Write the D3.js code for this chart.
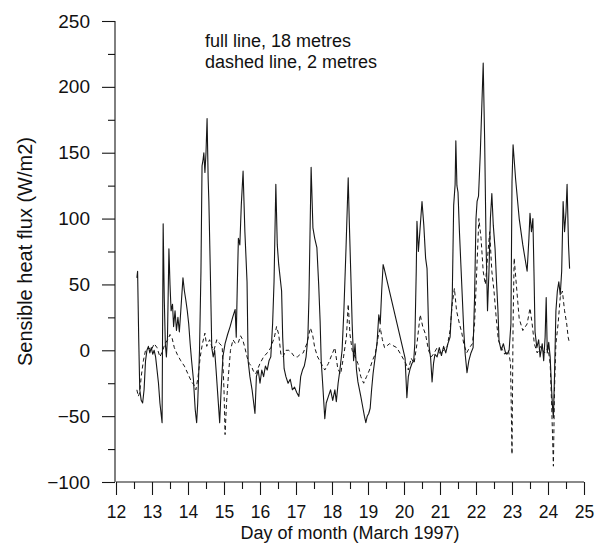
<!DOCTYPE html>
<html>
<head>
<meta charset="utf-8">
<script src="https://cdn.jsdelivr.net/npm/d3@7"></script>
<style>
  html, body { margin: 0; padding: 0; background: #fff; }
  svg text { font-family: "Liberation Sans", Arial, Helvetica, sans-serif; fill: #111; }
</style>
</head>
<body>
<svg id="chart" width="611" height="544"></svg>
<script>
// Sensible heat flux, March 1997, measured at two heights.

// 18 m sensor (full line): day of month and flux (W/m2)
const day18 = [
  12.58, 12.60, 12.63, 12.66, 12.70, 12.74, 12.78, 12.82, 12.86, 12.90, 12.94, 12.98,
  13.02, 13.06, 13.10, 13.14, 13.18, 13.22, 13.28, 13.31, 13.34, 13.37, 13.40, 13.43,
  13.47, 13.50, 13.53, 13.57, 13.60, 13.64, 13.68, 13.72, 13.76, 13.80, 13.86, 13.90,
  13.94, 13.98, 14.02, 14.06, 14.10, 14.15, 14.20, 14.24, 14.27, 14.32, 14.36, 14.39,
  14.42, 14.44, 14.47, 14.50, 14.53, 14.56, 14.58, 14.62, 14.66, 14.70, 14.74, 14.78,
  14.83, 14.88, 14.92, 14.97, 15.03, 15.10, 15.17, 15.24, 15.31, 15.34, 15.37, 15.40,
  15.44, 15.48, 15.53, 15.58, 15.64, 15.67, 15.72, 15.78, 15.86, 15.90, 15.95, 16.00,
  16.05, 16.10, 16.15, 16.20, 16.25, 16.30, 16.35, 16.39, 16.44, 16.48, 16.52, 16.56,
  16.60, 16.63, 16.67, 16.72, 16.78, 16.84, 16.90, 16.96, 17.02, 17.08, 17.13, 17.18,
  17.23, 17.28, 17.33, 17.36, 17.42, 17.47, 17.52, 17.58, 17.63, 17.67, 17.70, 17.74,
  17.80, 17.84, 17.90, 17.96, 18.02, 18.08, 18.12, 18.17, 18.22, 18.28, 18.33, 18.39,
  18.45, 18.48, 18.52, 18.56, 18.60, 18.64, 18.68, 18.72, 18.80, 18.86, 18.90, 18.94,
  18.98, 19.02, 19.06, 19.10, 19.14, 19.20, 19.25, 19.30, 19.34, 19.38, 19.42, 19.45,
  20.03, 20.08, 20.12, 20.17, 20.22, 20.27, 20.30, 20.34, 20.36, 20.40, 20.44, 20.50,
  20.55, 20.60, 20.64, 20.68, 20.70, 20.74, 20.78, 20.82, 20.86, 20.92, 20.98, 21.04,
  21.10, 21.16, 21.22, 21.28, 21.34, 21.38, 21.42, 21.44, 21.47, 21.50, 21.54, 21.58,
  21.62, 21.66, 21.70, 21.75, 21.80, 21.86, 21.92, 21.96, 22.00, 22.03, 22.07, 22.12,
  22.20, 22.24, 22.28, 22.32, 22.36, 22.40, 22.44, 22.48, 22.53, 22.57, 22.61, 22.64,
  22.70, 22.76, 22.82, 22.86, 22.92, 22.97, 23.00, 23.03, 23.10, 23.20, 23.30, 23.42,
  23.47, 23.50, 23.54, 23.58, 23.61, 23.64, 23.69, 23.74, 23.78, 23.84, 23.88, 23.92,
  23.95, 23.98, 24.02, 24.06, 24.10, 24.13, 24.15, 24.18, 24.22, 24.26, 24.30, 24.34,
  24.38, 24.42, 24.46, 24.50, 24.53, 24.57, 24.60
];
const flux18 = [
  55, 60, 10, -30, -38, -40, -30, -8, 0, 3, -2, 2,
  -3, 0, -5, -15, -25, -40, -55, 96, 40, 5, -5, 10,
  77, 50, 30, 35, 18, 30, 15, 25, 14, 30, 55, 45,
  38, 30, 20, 5, -8, -22, -45, -55, -40, 0, 60, 140,
  145, 150, 135, 150, 176, 130, 113, 60, 2, -5, 0, -15,
  -35, -55, -30, -5, 5, 12, 18, 25, 31, 10, 50, 85,
  80, 110, 136, 90, 52, -8, -20, -30, -48, -20, -15, -25,
  -15, -20, -12, -15, -8, -5, 20, 52, 126, 80, 65, 55,
  45, 10, -14, -20, -25, -22, -30, -28, -32, -35, -20, -15,
  -12, -5, 10, 40, 139, 93, 85, 78, 50, 22, -8, -25,
  -52, -40, -35, -30, -38, -30, -39, -25, -15, 0, 30, 78,
  131, 98, 60, 20, -8, 5, -15, -24, -35, -44, -50, -55,
  -50, -48, -44, -30, -18, -5, 5, 27, 20, 45, 65, 62,
  -6, -36, -20, -14, -10, -8, 5, 60, 98, 75, 90, 113,
  95, 70, 62, 20, 2, -6, -24, -10, -3, -5, 2, -4,
  3, -2, 5, 10, 40, 110, 126, 159, 125, 120, 90, 65,
  40, 15, -3, -17, -8, -2, 2, 40, 100, 113, 117, 150,
  218, 160, 80, 30, 60, 100, 119, 95, 77, 52, 30, 7,
  0, 5, -2, -3, 0, 20, 128, 156, 130, 100, 80, 60,
  85, 104, 90, 100, 60, 14, 2, 8, -5, 5, -8, 10,
  40, -2, 6, -5, -30, -45, -51, -20, 30, 45, 52, 42,
  60, 113, 90, 105, 126, 80, 62
];

// 2 m sensor (dashed line): day of month and flux (W/m2)
const day2 = [
  12.58, 12.62, 12.66, 12.70, 12.76, 12.82, 12.90, 12.98, 13.06, 13.14, 13.22, 13.30,
  13.36, 13.44, 13.50, 13.56, 13.62, 13.70, 13.80, 13.90, 14.00, 14.10, 14.16, 14.22,
  14.28, 14.34, 14.40, 14.47, 14.52, 14.60, 14.66, 14.72, 14.80, 14.88, 14.95, 15.00,
  15.03, 15.07, 15.12, 15.18, 15.25, 15.32, 15.40, 15.46, 15.52, 15.58, 15.64, 15.70,
  15.76, 15.82, 15.88, 15.94, 16.00, 16.10, 16.20, 16.30, 16.40, 16.46, 16.52, 16.58,
  16.64, 16.72, 16.80, 16.88, 16.96, 17.04, 17.12, 17.20, 17.30, 17.40, 17.46, 17.52,
  17.60, 17.70, 17.80, 17.90, 18.00, 18.08, 18.16, 18.24, 18.32, 18.40, 18.45, 18.50,
  18.56, 18.64, 18.72, 18.80, 18.88, 18.96, 19.04, 19.12, 19.20, 19.28, 19.34, 19.40,
  19.46, 19.60, 19.80, 19.95, 20.05, 20.12, 20.20, 20.28, 20.36, 20.45, 20.52, 20.60,
  20.68, 20.76, 20.84, 20.92, 21.00, 21.10, 21.20, 21.28, 21.34, 21.40, 21.46, 21.54,
  21.60, 21.66, 21.74, 21.82, 21.90, 21.96, 22.02, 22.08, 22.14, 22.20, 22.26, 22.32,
  22.38, 22.44, 22.50, 22.56, 22.62, 22.70, 22.80, 22.90, 22.96, 23.00, 23.03, 23.06,
  23.12, 23.20, 23.30, 23.42, 23.50, 23.56, 23.62, 23.70, 23.80, 23.90, 24.00, 24.06,
  24.10, 24.15, 24.18, 24.22, 24.28, 24.34, 24.40, 24.46, 24.52, 24.56, 24.60
];
const flux2 = [
  -30, -35, -32, -20, -8, 0, 2, 0, 5, 2, -5, 0,
  5, 8, 12, 9, 2, -3, -8, -12, -18, -24, -26, -30,
  -20, -5, 5, 13, 3, 8, 3, 0, 8, 5, 3, -30,
  -64, -40, -20, 0, 8, 5, 6, 11, 8, 2, -5, -10,
  -12, -16, -18, -14, -10, -5, -2, 2, 10, 18, 12, -3,
  -5, 0, 0, -2, -5, -5, -3, -2, 5, 17, 12, 2,
  -5, -10, -15, -10, -3, 2, -14, -18, -5, 10, 35, 12,
  0, -5, -10, -20, -25, -20, -15, -8, -3, 10, 17, 8,
  2, 5, 2, -5, -10, -15, -6, -10, 5, 27, 18, 12,
  0, -5, -2, 2, -3, 0, 3, 15, 35, 47, 30, 20,
  14, 5, -2, 2, 5, 20, 60, 100, 85, 60, 50, 70,
  90, 60, 45, 25, 8, 2, -3, 0, -10, -79, 20, 70,
  50, 24, 15, 20, 32, 20, 5, -2, 3, -2, 2, -10,
  -40, -88, -30, 5, 20, 40, 45, 30, 20, 10, 5
];

// Axis ticks
const yMajorTicks = [-100, -50, 0, 50, 100, 150, 200, 250];
const yMinorTicks = [-75, -25, 25, 75, 125, 175, 225];
const xMajorTicks = [12, 13, 14, 15, 16, 17, 18, 19, 20, 21, 22, 23, 24, 25];
const xMinorTicks = [12.5, 13.5, 14.5, 15.5, 16.5, 17.5, 18.5, 19.5, 20.5, 21.5, 22.5, 23.5, 24.5];

const legendLines = ["full line, 18 metres", "dashed line, 2 metres"];

const svg = d3.select("#chart");
const ink = "#161616";

const x = d3.scaleLinear().domain([12, 25]).range([116, 584]);
const y = d3.scaleLinear().domain([-100, 250]).range([482, 21]);

// Axes
const yAxisMajor = d3.axisLeft(y).tickValues(yMajorTicks).tickSize(13).tickPadding(12)
  .tickFormat(d3.format("d"));
const yAxisMinor = d3.axisLeft(y).tickValues(yMinorTicks).tickSize(7).tickFormat("");
const xAxisMajor = d3.axisBottom(x).tickValues(xMajorTicks).tickSize(13).tickPadding(11)
  .tickFormat(d3.format("d"));
const xAxisMinor = d3.axisBottom(x).tickValues(xMinorTicks).tickSize(7).tickFormat("");

function styleAxis(size) {
  return g => {
    g.selectAll("path").attr("stroke", ink).attr("stroke-width", 1.1);
    g.selectAll("line").attr("stroke", ink).attr("stroke-width", 1.1);
    g.selectAll("text").attr("font-size", size).attr("fill", ink);
  };
}

svg.append("g").attr("transform", "translate(115,0)").call(yAxisMinor).call(styleAxis(19))
  .select(".domain").remove();
svg.append("g").attr("transform", "translate(115,0)").call(yAxisMajor).call(styleAxis(19))
  .call(g => g.select(".domain").attr("d", `M0,${y(250)}V${y(-100)}`));

svg.append("g").attr("transform", `translate(0,${y(-100)})`).call(xAxisMinor).call(styleAxis(17.5))
  .select(".domain").remove();
svg.append("g").attr("transform", `translate(0,${y(-100)})`).call(xAxisMajor).call(styleAxis(17.5))
  .call(g => g.select(".domain").attr("d", `M${x(12)},0H${x(25)}`));

// Axis titles
svg.append("text")
  .attr("x", 350).attr("y", 539)
  .attr("text-anchor", "middle")
  .attr("font-size", 18)
  .text("Day of month (March 1997)");

svg.append("text")
  .attr("transform", "translate(32,366) rotate(-90)")
  .attr("text-anchor", "start")
  .attr("font-size", 20)
  .text("Sensible heat flux (W/m2)");

// Legend note, one line per series
svg.append("g").selectAll("text")
  .data(legendLines)
  .join("text")
  .attr("x", 205)
  .attr("y", (d, i) => 47 + i * 20.5)
  .attr("font-size", 18)
  .text(d => d);

// Series
const line = d3.line().x(d => x(d[0])).y(d => y(d[1]));

const series2 = day2.map((d, i) => [d, flux2[i]]);
const series18 = day18.map((d, i) => [d, flux18[i]]);

svg.append("path")
  .datum(series2)
  .attr("d", line)
  .attr("fill", "none")
  .attr("stroke", ink)
  .attr("stroke-width", 1)
  .attr("stroke-dasharray", "4,3");

svg.append("path")
  .datum(series18)
  .attr("d", line)
  .attr("fill", "none")
  .attr("stroke", ink)
  .attr("stroke-width", 1.1)
  .attr("stroke-linejoin", "round");
</script>
</body>
</html>
